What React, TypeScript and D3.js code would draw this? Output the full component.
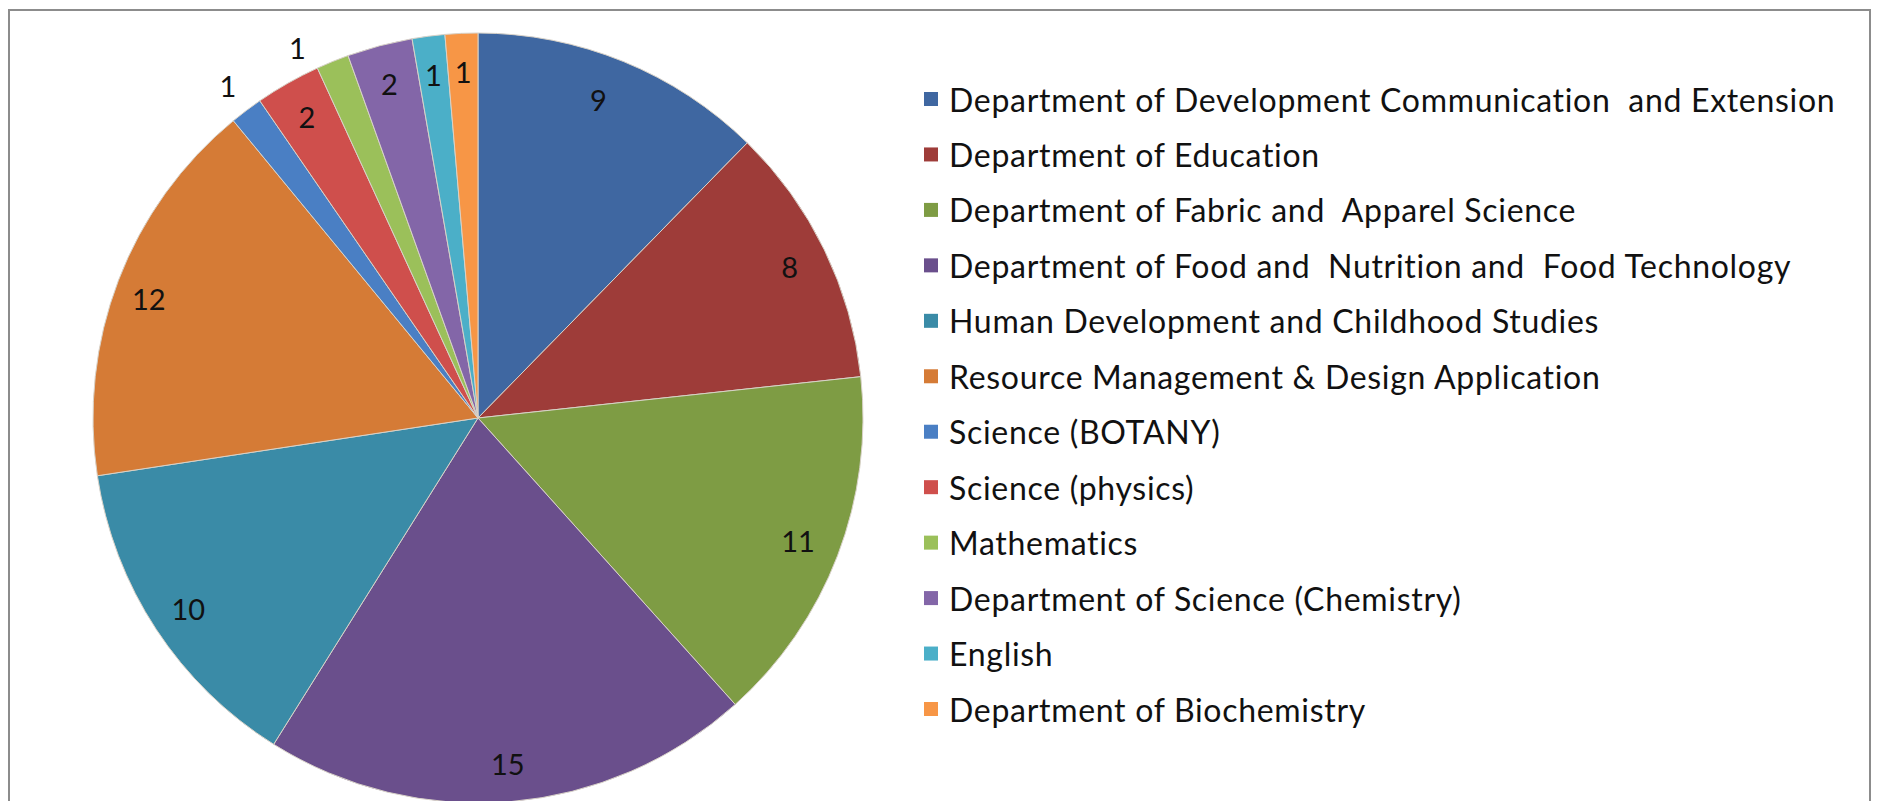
import React from "react";
import * as d3 from "d3";

const categories: string[] = [
  "Department of Development Communication  and Extension",
  "Department of Education",
  "Department of Fabric and  Apparel Science",
  "Department of Food and  Nutrition and  Food Technology",
  "Human Development and Childhood Studies",
  "Resource Management & Design Application",
  "Science (BOTANY)",
  "Science (physics)",
  "Mathematics",
  "Department of Science (Chemistry)",
  "English",
  "Department of Biochemistry",
];

const values: number[] = [9, 8, 11, 15, 10, 12, 1, 2, 1, 2, 1, 1];

const colors: string[] = [
  "#3F67A1",
  "#9E3C39",
  "#7E9C44",
  "#6A4F8C",
  "#3A8BA7",
  "#D57B36",
  "#4A7FC4",
  "#CF4F4C",
  "#9BC05A",
  "#8366A8",
  "#4BAFC8",
  "#F79646",
];

// label radius factors (relative to pie radius) and small angular nudges (degrees)
const labelR = [0.885, 0.9, 0.89, 0.9, 0.9, 0.91, 1.08, 0.9, 1.07, 0.9, 0.9, 0.9];
const labelDA = [-1.5, 0, 0, 0, 0, -1, 0, 0, -3.8, 0, 0, 0];

type Datum = { name: string; value: number; color: string; i: number };

export default function App() {
  const W = 1877;
  const H = 801;
  const cx = 478;
  const cy = 418;
  const R = 385;

  const data: Datum[] = categories.map((name, i) => ({
    name,
    value: values[i],
    color: colors[i],
    i,
  }));

  const pie = d3
    .pie<Datum>()
    .sort(null)
    .value((d) => d.value)
    .startAngle(0)
    .endAngle(2 * Math.PI);
  const arcs = pie(data);
  const arcGen = d3.arc<d3.PieArcDatum<Datum>>().innerRadius(0).outerRadius(R);

  const legendY = d3
    .scalePoint<number>()
    .domain(d3.range(categories.length))
    .range([99, 709]);

  const font = "Lato, sans-serif";

  return (
    <div style={{ position: "fixed", left: 0, top: 0, width: W, height: H, overflow: "hidden", background: "#fff" }}>
      <svg width={W} height={H} style={{ display: "block" }}>
        <rect x={0} y={0} width={W} height={H} fill="#ffffff" />
        <rect x={9} y={10} width={1861} height={H + 20} fill="none" stroke="#8c8c8c" strokeWidth={2} />
        <g transform={`translate(${cx},${cy})`}>
          {arcs.map((a) => (
            <path key={a.data.name} d={arcGen(a) || ""} fill={a.data.color} stroke="#d8d2c8" strokeWidth={1} />
          ))}
          {arcs.map((a) => {
            const mid = (a.startAngle + a.endAngle) / 2 + (labelDA[a.data.i] * Math.PI) / 180;
            const r = R * labelR[a.data.i];
            const x = Math.sin(mid) * r;
            const y = -Math.cos(mid) * r;
            return (
              <text
                key={"l" + a.data.name}
                x={x}
                y={y}
                textAnchor="middle"
                dominantBaseline="central"
                fontFamily={font}
                fontSize={29}
                fill="#111"
              >
                {a.data.value}
              </text>
            );
          })}
        </g>
        <g>
          {data.map((d) => {
            const y = legendY(d.i) as number;
            return (
              <g key={"lg" + d.name}>
                <rect x={924} y={y - 7} width={14} height={14} fill={d.color} />
                <text
                  x={949}
                  y={y}
                  dominantBaseline="central"
                  fontFamily={font}
                  fontSize={32}
                  letterSpacing={0.7}
                  fill="#111"
                  style={{ whiteSpace: "pre", fontVariantLigatures: "none" }}
                >
                  {d.name}
                </text>
              </g>
            );
          })}
        </g>
      </svg>
    </div>
  );
}
